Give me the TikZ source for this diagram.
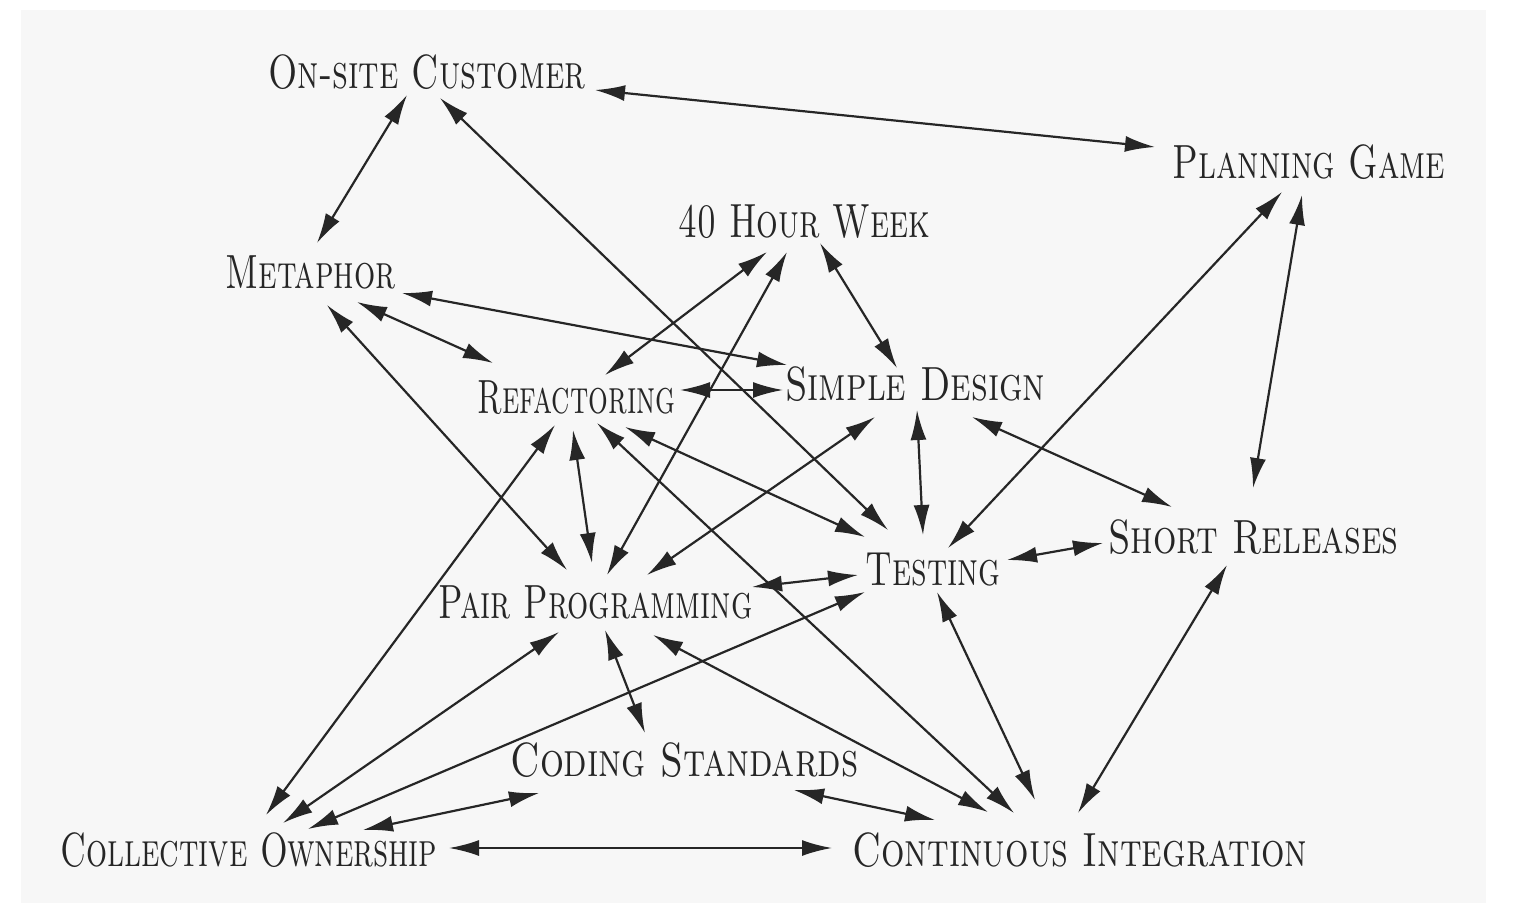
\documentclass[tikz,border=0pt]{standalone}
\usepackage{graphicx}
\usetikzlibrary{arrows.meta,calc}
\definecolor{ink}{HTML}{262626}
\definecolor{paper}{HTML}{F7F7F7}
\newcommand{\lbl}[2]{\resizebox{#1pt}{\height}{\fontsize{24}{28}\selectfont\scshape #2}}
\begin{document}
\begin{tikzpicture}[x=0.5pt,y=-0.5pt,
  practice/.style={inner sep=0pt, anchor=base west, text=ink},
  dbl/.style={draw=ink, line width=1.1pt, {Latex[length=15pt,width=8pt]}-{Latex[length=15pt,width=8pt]}}]
\useasboundingbox (0,0) rectangle (1521,922);
\fill[paper] (21,10) rectangle (1486,903);
% practices
\node[practice] (osc)  at (268,88)  {\lbl{158.5}{On-site Customer}};
\node[practice] (pg)   at (1172,178) {\lbl{136.5}{Planning Game}};
\node[practice] (hw)   at (678,237) {\lbl{126}{40 Hour Week}};
\node[practice] (met)  at (225,288) {\lbl{85}{Metaphor}};
\node[practice] (ref)  at (477,413) {\lbl{99}{Refactoring}};
\node[practice] (sd)   at (785,400) {\lbl{130}{Simple Design}};
\node[practice] (test) at (865,585) {\lbl{67.5}{Testing}};
\node[practice] (sr)   at (1108,553) {\lbl{145}{Short Releases}};
\node[practice] (pp)   at (438,618) {\lbl{157}{Pair Programming}};
\node[practice] (cs)   at (510,776) {\lbl{174}{Coding Standards}};
\node[practice] (co)   at (60,866)  {\lbl{188.5}{Collective Ownership}};
\node[practice] (ci)   at (852,866) {\lbl{227.5}{Continuous Integration}};
% connectors
\draw[dbl] ($(osc.base west)+(327,2)$)  -- ($(pg.base west)+(-17,-31)$);
\draw[dbl] ($(osc.base west)+(139,7)$)  -- ($(met.base west)+(92,-45)$);
\draw[dbl] ($(osc.base west)+(172,10)$) -- ($(test.base west)+(23,-55)$);
\draw[dbl] ($(met.base west)+(177,5)$)  -- ($(sd.base west)+(2,-35)$);
\draw[dbl] ($(met.base west)+(132,14)$) -- ($(ref.base west)+(16,-50)$);
\draw[dbl] ($(met.base west)+(102,17)$) -- ($(pp.base west)+(129,-48)$);
\draw[dbl] ($(hw.base west)+(89,15)$)   -- ($(ref.base west)+(128,-38)$);
\draw[dbl] ($(hw.base west)+(109,15)$)  -- ($(pp.base west)+(169,-43)$);
\draw[dbl] ($(hw.base west)+(142,6)$)   -- ($(sd.base west)+(112,-32)$);
\draw[dbl] ($(ref.base west)+(203,-23)$) -- ($(sd.base west)+(-2,-10)$);
\draw[dbl] ($(ref.base west)+(96,17)$)  -- ($(pp.base west)+(154,-55)$);
\draw[dbl] ($(ref.base west)+(148,14)$) -- ($(test.base west)+(0,-48)$);
\draw[dbl] ($(ref.base west)+(120,10)$) -- ($(ci.base west)+(162,-53)$);
\draw[dbl] ($(ref.base west)+(78,12)$)  -- ($(co.base west)+(206,-51)$);
\draw[dbl] ($(sd.base west)+(90,17)$)   -- ($(pp.base west)+(209,-43)$);
\draw[dbl] ($(sd.base west)+(132,10)$)  -- ($(test.base west)+(58,-50)$);
\draw[dbl] ($(sd.base west)+(187,17)$)  -- ($(sr.base west)+(64,-46)$);
\draw[dbl] ($(pg.base west)+(110,14)$)  -- ($(test.base west)+(83,-37)$);
\draw[dbl] ($(pg.base west)+(130,17)$)  -- ($(sr.base west)+(145,-65)$);
\draw[dbl] ($(test.base west)+(142,-25)$) -- ($(sr.base west)+(-5,-10)$);
\draw[dbl] ($(pp.base west)+(314,-31)$) -- ($(test.base west)+(-7,-10)$);
\draw[dbl] ($(test.base west)+(72,7)$)  -- ($(ci.base west)+(183,-66)$);
\draw[dbl] ($(sr.base west)+(119,12)$)  -- ($(ci.base west)+(226,-53)$);
\draw[dbl] ($(test.base west)+(0,7)$)   -- ($(co.base west)+(248,-37)$);
\draw[dbl] ($(pp.base west)+(121,14)$)  -- ($(co.base west)+(223,-43)$);
\draw[dbl] ($(pp.base west)+(167,12)$)  -- ($(cs.base west)+(135,-43)$);
\draw[dbl] ($(pp.base west)+(215,17)$)  -- ($(ci.base west)+(136,-54)$);
\draw[dbl] ($(cs.base west)+(29,17)$)   -- ($(co.base west)+(303,-36)$);
\draw[dbl] ($(cs.base west)+(284,14)$)  -- ($(ci.base west)+(83,-46)$);
\draw[dbl] ($(co.base west)+(389,-18)$) -- ($(ci.base west)+(-20,-18)$);
\end{tikzpicture}
\end{document}
